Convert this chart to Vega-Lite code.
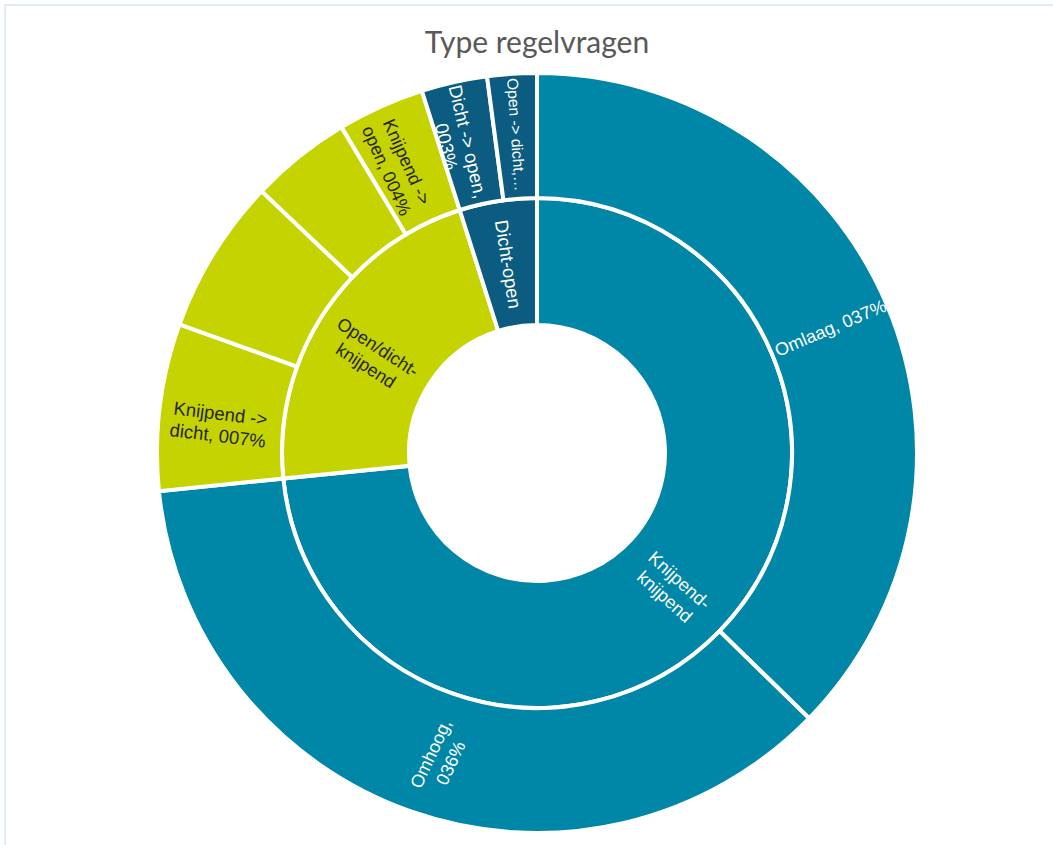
{
  "$schema": "https://vega.github.io/schema/vega-lite/v6.json",
  "width": 1064,
  "height": 896,
  "autosize": {"type": "none"},
  "padding": {"left": 5, "top": 5, "right": -16, "bottom": -56},
  "background": "white",
  "title": {
    "text": "Type regelvragen",
    "font": "Lato",
    "fontSize": 30,
    "fontWeight": "normal",
    "color": "#595959",
    "anchor": "middle",
    "frame": "group",
    "baseline": "alphabetic",
    "offset": -47,
    "dy": 31
  },
  "data": {
    "values": [
      {"ring": "inner", "name": "Knijpend-knijpend", "group": "Knijpend-knijpend", "value": 73.4, "label": "Knijpend-\nknijpend"},
      {"ring": "inner", "name": "Open/dicht-knijpend", "group": "Open/dicht-knijpend", "value": 21.7, "label": "Open/dicht-\nknijpend"},
      {"ring": "inner", "name": "Dicht-open", "group": "Dicht-open", "value": 4.9, "label": "Dicht-open"},
      {"ring": "outer", "name": "Omlaag", "group": "Knijpend-knijpend", "value": 37.3, "label": "Omlaag, 037%"},
      {"ring": "outer", "name": "Omhoog", "group": "Knijpend-knijpend", "value": 36.1, "label": "Omhoog,\n036%"},
      {"ring": "outer", "name": "Knijpend -> dicht", "group": "Open/dicht-knijpend", "value": 7.1, "label": "Knijpend ->\ndicht, 007%"},
      {"ring": "outer", "name": "Dicht -> knijpend", "group": "Open/dicht-knijpend", "value": 6.6, "label": ""},
      {"ring": "outer", "name": "Open -> knijpend", "group": "Open/dicht-knijpend", "value": 4.3, "label": ""},
      {"ring": "outer", "name": "Knijpend -> open", "group": "Open/dicht-knijpend", "value": 3.7, "label": "Knijpend ->\nopen, 004%"},
      {"ring": "outer", "name": "Dicht -> open", "group": "Dicht-open", "value": 2.8, "label": "Dicht -> open,\n003%"},
      {"ring": "outer", "name": "Open -> dicht", "group": "Dicht-open", "value": 2.1, "label": "Open -> dicht,…"}
    ]
  },
  "layer": [
    {
      "data": {"values": [{"frame": "chart area"}]},
      "mark": {"type": "rect", "fill": "transparent", "stroke": "#BCDDEE", "strokeWidth": 1},
      "encoding": {}
    },
    {
      "transform": [{"filter": "datum.ring === 'inner'"}, {"window": [{"op": "row_number", "as": "idx"}]}],
      "mark": {"type": "arc", "innerRadius": 128, "outerRadius": 255, "stroke": "white", "strokeWidth": 4},
      "encoding": {
        "theta": {"field": "value", "type": "quantitative", "stack": true, "scale": {"domain": [0, 100]}},
        "order": {"field": "idx", "type": "quantitative"},
        "color": {"field": "group", "type": "nominal", "scale": {"domain": ["Knijpend-knijpend", "Open/dicht-knijpend", "Dicht-open"], "range": ["#0086A7", "#C5D300", "#0B5C80"]}, "legend": null}
      }
    },
    {
      "transform": [{"filter": "datum.ring === 'outer'"}, {"window": [{"op": "row_number", "as": "idx"}]}],
      "mark": {"type": "arc", "innerRadius": 255, "outerRadius": 380, "stroke": "white", "strokeWidth": 4},
      "encoding": {
        "theta": {"field": "value", "type": "quantitative", "stack": true, "scale": {"domain": [0, 100]}},
        "order": {"field": "idx", "type": "quantitative"},
        "color": {"field": "group", "type": "nominal", "scale": {"domain": ["Knijpend-knijpend", "Open/dicht-knijpend", "Dicht-open"], "range": ["#0086A7", "#C5D300", "#0B5C80"]}, "legend": null}
      }
    },
    {
      "transform": [{"filter": "datum.ring === 'inner'"}, {"window": [{"op": "row_number", "as": "idx"}]}],
      "mark": {"type": "text", "radius": 191, "font": "Liberation Sans", "fontSize": 18, "lineHeight": 22, "lineBreak": "\n", "align": "center", "baseline": "middle"},
      "encoding": {
        "theta": {"field": "value", "type": "quantitative", "stack": true, "scale": {"domain": [0, 100]}},
        "order": {"field": "idx", "type": "quantitative"},
        "detail": {"field": "name", "type": "nominal"},
        "text": {"field": "label", "type": "nominal"},
        "angle": {"field": "name", "type": "nominal", "scale": {"type": "ordinal", "domain": ["Knijpend-knijpend", "Open/dicht-knijpend", "Dicht-open", "Omlaag", "Omhoog", "Knijpend -> dicht", "Dicht -> knijpend", "Open -> knijpend", "Knijpend -> open", "Dicht -> open", "Open -> dicht"], "range": [42, 33, 81, -23, -65, 7, 0, 0, 66, 77, 86]}, "legend": null},
        "size": {"field": "name", "type": "nominal", "scale": {"type": "ordinal", "domain": ["Knijpend-knijpend", "Open/dicht-knijpend", "Dicht-open", "Omlaag", "Omhoog", "Knijpend -> dicht", "Dicht -> knijpend", "Open -> knijpend", "Knijpend -> open", "Dicht -> open", "Open -> dicht"], "range": [18, 18, 18.5, 18, 18, 18.5, 18, 18, 18, 18.5, 15.5]}, "legend": null},
        "color": {"condition": {"test": "datum.group === 'Open/dicht-knijpend'", "value": "#262626"}, "value": "white"}
      }
    },
    {
      "transform": [{"filter": "datum.ring === 'outer'"}, {"window": [{"op": "row_number", "as": "idx"}]}],
      "mark": {"type": "text", "radius": 319, "font": "Liberation Sans", "fontSize": 18, "lineHeight": 22, "lineBreak": "\n", "align": "center", "baseline": "middle"},
      "encoding": {
        "theta": {"field": "value", "type": "quantitative", "stack": true, "scale": {"domain": [0, 100]}},
        "order": {"field": "idx", "type": "quantitative"},
        "detail": {"field": "name", "type": "nominal"},
        "text": {"field": "label", "type": "nominal"},
        "angle": {"field": "name", "type": "nominal", "scale": {"type": "ordinal", "domain": ["Knijpend-knijpend", "Open/dicht-knijpend", "Dicht-open", "Omlaag", "Omhoog", "Knijpend -> dicht", "Dicht -> knijpend", "Open -> knijpend", "Knijpend -> open", "Dicht -> open", "Open -> dicht"], "range": [42, 33, 81, -23, -65, 7, 0, 0, 66, 77, 86]}, "legend": null},
        "size": {"field": "name", "type": "nominal", "scale": {"type": "ordinal", "domain": ["Knijpend-knijpend", "Open/dicht-knijpend", "Dicht-open", "Omlaag", "Omhoog", "Knijpend -> dicht", "Dicht -> knijpend", "Open -> knijpend", "Knijpend -> open", "Dicht -> open", "Open -> dicht"], "range": [18, 18, 18.5, 18, 18, 18.5, 18, 18, 18, 18.5, 15.5]}, "legend": null},
        "color": {"condition": {"test": "datum.group === 'Open/dicht-knijpend'", "value": "#262626"}, "value": "white"}
      }
    }
  ]
}
